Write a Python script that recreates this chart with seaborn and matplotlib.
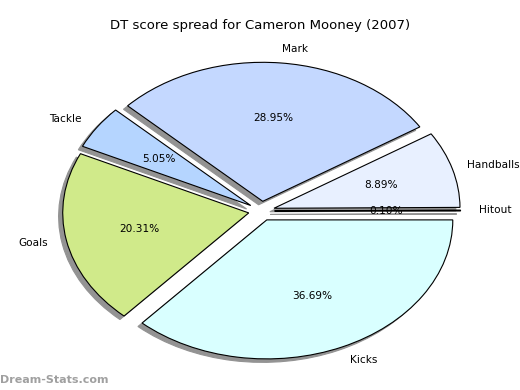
import matplotlib
matplotlib.use("Agg")
import matplotlib.pyplot as plt
import seaborn as sns

sns.set_theme(style="white")
plt.rcParams['font.family'] = ['DejaVu Sans']
plt.rcParams['text.color'] = 'black'

categories = ["Hitout", "Handballs", "Mark", "Tackle", "Goals", "Kicks"]
values = [0.10, 8.89, 28.95, 5.05, 20.31, 36.69]
colors = ["#e0e0ff", "#e8f0ff", "#c4d8ff", "#b5d5ff", "#d0ea8a", "#d9ffff"]

fig = plt.figure(figsize=(5.2, 3.9), dpi=100)
W, H = 520, 390
cx, cy = 261.5, 390 - 211
rx, ry = 186, 139
lim = 1.3
ax = fig.add_axes([(cx - lim * rx) / W, (cy - lim * ry) / H, 2 * lim * rx / W, 2 * lim * ry / H])
wedges, texts, autotexts = ax.pie(
    values, labels=categories, colors=colors, explode=[0.07] * len(values),
    startangle=0, counterclock=True,
    shadow=dict(ox=-0.016, oy=-0.018, facecolor="#939393", edgecolor="#939393", alpha=1.0),
    autopct="%1.2f%%",
    labeldistance=1.1, pctdistance=0.6,
    wedgeprops=dict(edgecolor="black", linewidth=0.8),
    textprops=dict(fontsize=7.6, color="black"),
)
# nudge the Handballs label so it stays inside the figure
hx, hy = texts[1].get_position()
texts[1].set_position((hx - 0.02, hy))
ax.set_aspect("auto")
ax.set_xlim(-lim, lim)
ax.set_ylim(-lim, lim)
ax.axis("off")

fig.text(260 / W, 1 - 26 / H, "DT score spread for Cameron Mooney (2007)",
         ha="center", va="center", fontsize=9.5, color="black")
fig.text(0, 1 - 380 / H, "Dream-Stats.com", ha="left", va="center",
         fontsize=8, color="#a0a0a0", fontweight="bold")

fig.savefig("out.png", dpi=100)
